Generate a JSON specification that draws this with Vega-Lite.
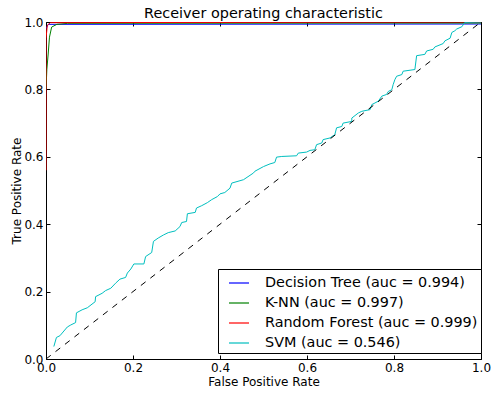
{
  "$schema": "https://vega.github.io/schema/vega-lite/v6.json",
  "width": 435,
  "height": 337,
  "autosize": {"type": "none"},
  "padding": {"left": 46, "top": 22, "right": 11, "bottom": 35},
  "background": "white",
  "title": {"text": "Receiver operating characteristic", "fontSize": 14.4, "font": "DejaVu Sans", "fontWeight": "normal", "color": "black", "offset": -5},
  "config": {
    "view": {"stroke": "black", "strokeWidth": 1},
    "axis": {"domain": false, "grid": false, "tickColor": "black", "tickSize": -4, "labelFont": "DejaVu Sans", "labelFontSize": 12, "labelColor": "black", "titleFont": "DejaVu Sans", "titleFontSize": 12, "titleFontWeight": "normal", "titleColor": "black", "labelFlush": false, "labelOverlap": false}
  },
  "datasets": {
    "roc": [
      {"model": "Decision Tree (auc = 0.994)", "i": 0, "fpr": 0, "tpr": 0.98},
      {"model": "Decision Tree (auc = 0.994)", "i": 1, "fpr": 0.005, "tpr": 0.993},
      {"model": "Decision Tree (auc = 0.994)", "i": 2, "fpr": 1, "tpr": 0.994},
      {"model": "K-NN (auc = 0.997)", "i": 0, "fpr": 0, "tpr": 0.8},
      {"model": "K-NN (auc = 0.997)", "i": 1, "fpr": 0.002, "tpr": 0.86},
      {"model": "K-NN (auc = 0.997)", "i": 2, "fpr": 0.005, "tpr": 0.905},
      {"model": "K-NN (auc = 0.997)", "i": 3, "fpr": 0.008, "tpr": 0.955},
      {"model": "K-NN (auc = 0.997)", "i": 4, "fpr": 0.013, "tpr": 0.985},
      {"model": "K-NN (auc = 0.997)", "i": 5, "fpr": 0.025, "tpr": 0.993},
      {"model": "K-NN (auc = 0.997)", "i": 6, "fpr": 0.05, "tpr": 0.996},
      {"model": "K-NN (auc = 0.997)", "i": 7, "fpr": 1, "tpr": 0.997},
      {"model": "Random Forest (auc = 0.999)", "i": 0, "fpr": 0, "tpr": 0.56},
      {"model": "Random Forest (auc = 0.999)", "i": 1, "fpr": 0, "tpr": 0.95},
      {"model": "Random Forest (auc = 0.999)", "i": 2, "fpr": 0.003, "tpr": 0.99},
      {"model": "Random Forest (auc = 0.999)", "i": 3, "fpr": 0.01, "tpr": 0.998},
      {"model": "Random Forest (auc = 0.999)", "i": 4, "fpr": 1, "tpr": 1},
      {"model": "SVM (auc = 0.546)", "i": 0, "fpr": 0.018, "tpr": 0.037},
      {"model": "SVM (auc = 0.546)", "i": 1, "fpr": 0.024, "tpr": 0.064},
      {"model": "SVM (auc = 0.546)", "i": 2, "fpr": 0.032, "tpr": 0.069},
      {"model": "SVM (auc = 0.546)", "i": 3, "fpr": 0.049, "tpr": 0.095},
      {"model": "SVM (auc = 0.546)", "i": 4, "fpr": 0.057, "tpr": 0.101},
      {"model": "SVM (auc = 0.546)", "i": 5, "fpr": 0.068, "tpr": 0.108},
      {"model": "SVM (auc = 0.546)", "i": 6, "fpr": 0.07, "tpr": 0.137},
      {"model": "SVM (auc = 0.546)", "i": 7, "fpr": 0.083, "tpr": 0.146},
      {"model": "SVM (auc = 0.546)", "i": 8, "fpr": 0.095, "tpr": 0.152},
      {"model": "SVM (auc = 0.546)", "i": 9, "fpr": 0.113, "tpr": 0.17},
      {"model": "SVM (auc = 0.546)", "i": 10, "fpr": 0.114, "tpr": 0.185},
      {"model": "SVM (auc = 0.546)", "i": 11, "fpr": 0.129, "tpr": 0.195},
      {"model": "SVM (auc = 0.546)", "i": 12, "fpr": 0.137, "tpr": 0.203},
      {"model": "SVM (auc = 0.546)", "i": 13, "fpr": 0.149, "tpr": 0.21},
      {"model": "SVM (auc = 0.546)", "i": 14, "fpr": 0.16, "tpr": 0.225},
      {"model": "SVM (auc = 0.546)", "i": 15, "fpr": 0.17, "tpr": 0.237},
      {"model": "SVM (auc = 0.546)", "i": 16, "fpr": 0.183, "tpr": 0.242},
      {"model": "SVM (auc = 0.546)", "i": 17, "fpr": 0.187, "tpr": 0.255},
      {"model": "SVM (auc = 0.546)", "i": 18, "fpr": 0.195, "tpr": 0.267},
      {"model": "SVM (auc = 0.546)", "i": 19, "fpr": 0.202, "tpr": 0.282},
      {"model": "SVM (auc = 0.546)", "i": 20, "fpr": 0.225, "tpr": 0.282},
      {"model": "SVM (auc = 0.546)", "i": 21, "fpr": 0.229, "tpr": 0.304},
      {"model": "SVM (auc = 0.546)", "i": 22, "fpr": 0.243, "tpr": 0.316},
      {"model": "SVM (auc = 0.546)", "i": 23, "fpr": 0.247, "tpr": 0.349},
      {"model": "SVM (auc = 0.546)", "i": 24, "fpr": 0.258, "tpr": 0.359},
      {"model": "SVM (auc = 0.546)", "i": 25, "fpr": 0.27, "tpr": 0.368},
      {"model": "SVM (auc = 0.546)", "i": 26, "fpr": 0.281, "tpr": 0.375},
      {"model": "SVM (auc = 0.546)", "i": 27, "fpr": 0.297, "tpr": 0.38},
      {"model": "SVM (auc = 0.546)", "i": 28, "fpr": 0.308, "tpr": 0.393},
      {"model": "SVM (auc = 0.546)", "i": 29, "fpr": 0.312, "tpr": 0.405},
      {"model": "SVM (auc = 0.546)", "i": 30, "fpr": 0.323, "tpr": 0.408},
      {"model": "SVM (auc = 0.546)", "i": 31, "fpr": 0.325, "tpr": 0.431},
      {"model": "SVM (auc = 0.546)", "i": 32, "fpr": 0.343, "tpr": 0.435},
      {"model": "SVM (auc = 0.546)", "i": 33, "fpr": 0.346, "tpr": 0.448},
      {"model": "SVM (auc = 0.546)", "i": 34, "fpr": 0.358, "tpr": 0.455},
      {"model": "SVM (auc = 0.546)", "i": 35, "fpr": 0.371, "tpr": 0.464},
      {"model": "SVM (auc = 0.546)", "i": 36, "fpr": 0.381, "tpr": 0.473},
      {"model": "SVM (auc = 0.546)", "i": 37, "fpr": 0.394, "tpr": 0.482},
      {"model": "SVM (auc = 0.546)", "i": 38, "fpr": 0.4, "tpr": 0.49},
      {"model": "SVM (auc = 0.546)", "i": 39, "fpr": 0.411, "tpr": 0.494},
      {"model": "SVM (auc = 0.546)", "i": 40, "fpr": 0.423, "tpr": 0.507},
      {"model": "SVM (auc = 0.546)", "i": 41, "fpr": 0.427, "tpr": 0.522},
      {"model": "SVM (auc = 0.546)", "i": 42, "fpr": 0.454, "tpr": 0.532},
      {"model": "SVM (auc = 0.546)", "i": 43, "fpr": 0.477, "tpr": 0.552},
      {"model": "SVM (auc = 0.546)", "i": 44, "fpr": 0.48, "tpr": 0.557},
      {"model": "SVM (auc = 0.546)", "i": 45, "fpr": 0.5, "tpr": 0.571},
      {"model": "SVM (auc = 0.546)", "i": 46, "fpr": 0.515, "tpr": 0.579},
      {"model": "SVM (auc = 0.546)", "i": 47, "fpr": 0.526, "tpr": 0.583},
      {"model": "SVM (auc = 0.546)", "i": 48, "fpr": 0.53, "tpr": 0.599},
      {"model": "SVM (auc = 0.546)", "i": 49, "fpr": 0.542, "tpr": 0.601},
      {"model": "SVM (auc = 0.546)", "i": 50, "fpr": 0.576, "tpr": 0.603},
      {"model": "SVM (auc = 0.546)", "i": 51, "fpr": 0.58, "tpr": 0.611},
      {"model": "SVM (auc = 0.546)", "i": 52, "fpr": 0.599, "tpr": 0.614},
      {"model": "SVM (auc = 0.546)", "i": 53, "fpr": 0.607, "tpr": 0.619},
      {"model": "SVM (auc = 0.546)", "i": 54, "fpr": 0.618, "tpr": 0.621},
      {"model": "SVM (auc = 0.546)", "i": 55, "fpr": 0.622, "tpr": 0.636},
      {"model": "SVM (auc = 0.546)", "i": 56, "fpr": 0.634, "tpr": 0.641},
      {"model": "SVM (auc = 0.546)", "i": 57, "fpr": 0.637, "tpr": 0.651},
      {"model": "SVM (auc = 0.546)", "i": 58, "fpr": 0.653, "tpr": 0.656},
      {"model": "SVM (auc = 0.546)", "i": 59, "fpr": 0.664, "tpr": 0.666},
      {"model": "SVM (auc = 0.546)", "i": 60, "fpr": 0.668, "tpr": 0.686},
      {"model": "SVM (auc = 0.546)", "i": 61, "fpr": 0.68, "tpr": 0.69},
      {"model": "SVM (auc = 0.546)", "i": 62, "fpr": 0.683, "tpr": 0.7},
      {"model": "SVM (auc = 0.546)", "i": 63, "fpr": 0.703, "tpr": 0.705},
      {"model": "SVM (auc = 0.546)", "i": 64, "fpr": 0.703, "tpr": 0.715},
      {"model": "SVM (auc = 0.546)", "i": 65, "fpr": 0.718, "tpr": 0.73},
      {"model": "SVM (auc = 0.546)", "i": 66, "fpr": 0.726, "tpr": 0.735},
      {"model": "SVM (auc = 0.546)", "i": 67, "fpr": 0.745, "tpr": 0.74},
      {"model": "SVM (auc = 0.546)", "i": 68, "fpr": 0.749, "tpr": 0.755},
      {"model": "SVM (auc = 0.546)", "i": 69, "fpr": 0.764, "tpr": 0.765},
      {"model": "SVM (auc = 0.546)", "i": 70, "fpr": 0.772, "tpr": 0.78},
      {"model": "SVM (auc = 0.546)", "i": 71, "fpr": 0.783, "tpr": 0.785},
      {"model": "SVM (auc = 0.546)", "i": 72, "fpr": 0.787, "tpr": 0.794},
      {"model": "SVM (auc = 0.546)", "i": 73, "fpr": 0.795, "tpr": 0.799},
      {"model": "SVM (auc = 0.546)", "i": 74, "fpr": 0.798, "tpr": 0.814},
      {"model": "SVM (auc = 0.546)", "i": 75, "fpr": 0.802, "tpr": 0.829},
      {"model": "SVM (auc = 0.546)", "i": 76, "fpr": 0.806, "tpr": 0.839},
      {"model": "SVM (auc = 0.546)", "i": 77, "fpr": 0.818, "tpr": 0.844},
      {"model": "SVM (auc = 0.546)", "i": 78, "fpr": 0.821, "tpr": 0.854},
      {"model": "SVM (auc = 0.546)", "i": 79, "fpr": 0.848, "tpr": 0.859},
      {"model": "SVM (auc = 0.546)", "i": 80, "fpr": 0.852, "tpr": 0.9},
      {"model": "SVM (auc = 0.546)", "i": 81, "fpr": 0.871, "tpr": 0.904},
      {"model": "SVM (auc = 0.546)", "i": 82, "fpr": 0.875, "tpr": 0.914},
      {"model": "SVM (auc = 0.546)", "i": 83, "fpr": 0.89, "tpr": 0.919},
      {"model": "SVM (auc = 0.546)", "i": 84, "fpr": 0.894, "tpr": 0.926},
      {"model": "SVM (auc = 0.546)", "i": 85, "fpr": 0.913, "tpr": 0.936},
      {"model": "SVM (auc = 0.546)", "i": 86, "fpr": 0.917, "tpr": 0.944},
      {"model": "SVM (auc = 0.546)", "i": 87, "fpr": 0.929, "tpr": 0.952},
      {"model": "SVM (auc = 0.546)", "i": 88, "fpr": 0.933, "tpr": 0.969},
      {"model": "SVM (auc = 0.546)", "i": 89, "fpr": 0.94, "tpr": 0.974},
      {"model": "SVM (auc = 0.546)", "i": 90, "fpr": 0.944, "tpr": 0.979},
      {"model": "SVM (auc = 0.546)", "i": 91, "fpr": 0.956, "tpr": 0.986},
      {"model": "SVM (auc = 0.546)", "i": 92, "fpr": 0.963, "tpr": 0.999},
      {"model": "SVM (auc = 0.546)", "i": 93, "fpr": 1, "tpr": 1}
    ],
    "diag": [
      {"fpr": 0, "tpr": 0},
      {"fpr": 1, "tpr": 1}
    ]
  },
  "layer": [
    {
      "data": {"name": "roc"},
      "mark": {"type": "line", "strokeWidth": 1, "clip": true},
      "encoding": {
        "x": {"field": "fpr", "type": "quantitative", "scale": {"domain": [0, 1], "nice": false}, "axis": {"title": "False Positive Rate", "values": [0, 0.2, 0.4, 0.6, 0.8, 1], "format": ".1f", "labelPadding": 7, "titlePadding": 3}},
        "y": {"field": "tpr", "type": "quantitative", "scale": {"domain": [0, 1], "nice": false}, "axis": {"title": "True Positive Rate", "values": [0, 0.2, 0.4, 0.6, 0.8, 1], "format": ".1f", "labelPadding": 7, "titlePadding": 0}},
        "color": {
          "field": "model", "type": "nominal",
          "scale": {"domain": ["Decision Tree (auc = 0.994)", "K-NN (auc = 0.997)", "Random Forest (auc = 0.999)", "SVM (auc = 0.546)"], "range": ["#0000ff", "#008000", "#ff0000", "#00bfbf"]},
          "legend": {"title": null, "orient": "none", "legendX": 172, "legendY": 247, "symbolType": "stroke", "symbolSize": 400, "symbolStrokeWidth": 1.2, "labelFont": "DejaVu Sans", "labelFontSize": 14.4, "labelColor": "black", "labelOffset": 15, "labelLimit": 400, "rowPadding": 2, "padding": 3, "symbolOffset": 7, "strokeColor": "black", "fillColor": "white", "cornerRadius": 0}
        },
        "order": {"field": "i", "type": "quantitative"}
      }
    },
    {
      "data": {"name": "diag"},
      "mark": {"type": "line", "stroke": "black", "strokeDash": [6, 6], "strokeWidth": 1},
      "encoding": {
        "x": {"field": "fpr", "type": "quantitative", "axis": {"orient": "top", "labels": false, "title": null, "values": [0, 0.2, 0.4, 0.6, 0.8, 1]}},
        "y": {"field": "tpr", "type": "quantitative", "axis": {"orient": "right", "labels": false, "title": null, "values": [0, 0.2, 0.4, 0.6, 0.8, 1]}}
      }
    }
  ],
  "resolve": {"axis": {"x": "independent", "y": "independent"}}
}
